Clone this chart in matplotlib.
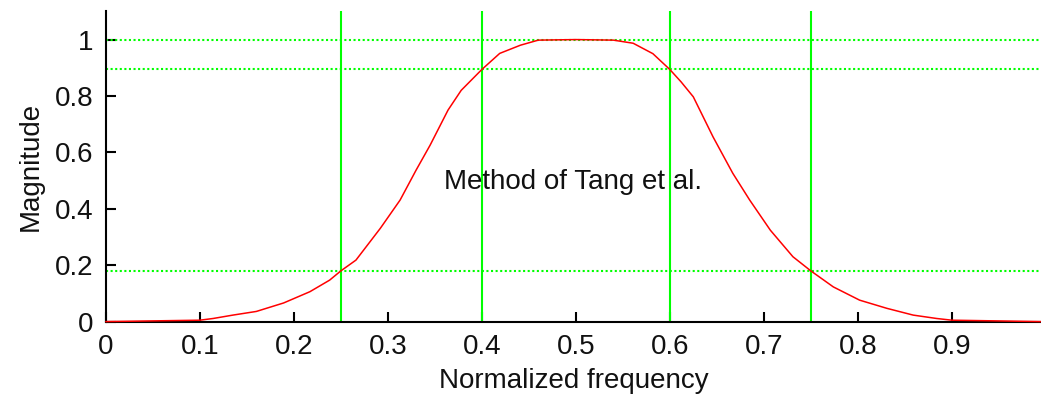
import numpy as np
import matplotlib.pyplot as plt

plt.rcParams['font.family'] = ['Liberation Sans', 'DejaVu Sans']

# magnitude response
freq = [0.0, 0.1, 0.114, 0.135, 0.16, 0.189, 0.217, 0.238, 0.25, 0.266, 0.292,
        0.313, 0.33, 0.345, 0.364, 0.378, 0.4, 0.419, 0.441, 0.46, 0.5, 0.54,
        0.561, 0.582, 0.6, 0.612, 0.625, 0.646, 0.667, 0.685, 0.707, 0.731, 0.75,
        0.774, 0.802, 0.831, 0.859, 0.884, 0.9, 0.995]
mag = [0.0, 0.005, 0.011, 0.023, 0.036, 0.066, 0.106, 0.147, 0.18, 0.218, 0.331,
       0.431, 0.537, 0.626, 0.75, 0.82, 0.894, 0.951, 0.98, 0.998, 1.0, 0.998,
       0.987, 0.95, 0.894, 0.85, 0.797, 0.655, 0.526, 0.431, 0.324, 0.23, 0.18,
       0.123, 0.076, 0.047, 0.023, 0.011, 0.005, 0.0]

band_edges = [0.25, 0.4, 0.6, 0.75]
levels = [1.0, 0.894, 0.179]
xticks = [0, 0.1, 0.2, 0.3, 0.4, 0.5, 0.6, 0.7, 0.8, 0.9]
yticks = [0, 0.2, 0.4, 0.6, 0.8, 1]

fig = plt.figure(figsize=(10.41, 3.99), dpi=100)
ax = fig.add_axes([0.1018, 0.194, 0.8982, 0.7775])

green = '#00ff00'
for x in band_edges:
    ax.axvline(x, color=green, lw=1.5, zorder=2)
for y in levels:
    ax.axhline(y, color=green, lw=1.5, ls=(0, (1, 1.2)), zorder=2)

ax.plot(freq, mag, color='#ff0000', lw=1.1, zorder=4, clip_on=False)

ax.text(0.497, 0.495, 'Method of Tang et al.', ha='center', va='center',
        fontsize=20, color='#111111', zorder=5)

ax.set_xlim(0, 0.995)
ax.set_ylim(0, 1.1)
ax.set_xticks(xticks)
ax.set_xticklabels(['0' if t == 0 else '%g' % t for t in xticks])
ax.set_yticks(yticks)
ax.set_yticklabels(['%g' % t for t in yticks])

for s in ['top', 'right']:
    ax.spines[s].set_visible(False)
for s in ['left', 'bottom']:
    ax.spines[s].set_linewidth(1.5)
    ax.spines[s].set_zorder(3)

ax.tick_params(direction='in', length=7, width=1.5, labelsize=20,
               labelcolor='#111111', pad=9)
ax.set_xlabel('Normalized frequency', fontsize=20, color='#111111', labelpad=6)
ax.set_ylabel('Magnitude', fontsize=20, color='#111111', labelpad=8)

fig.savefig('out.png', dpi=100)
